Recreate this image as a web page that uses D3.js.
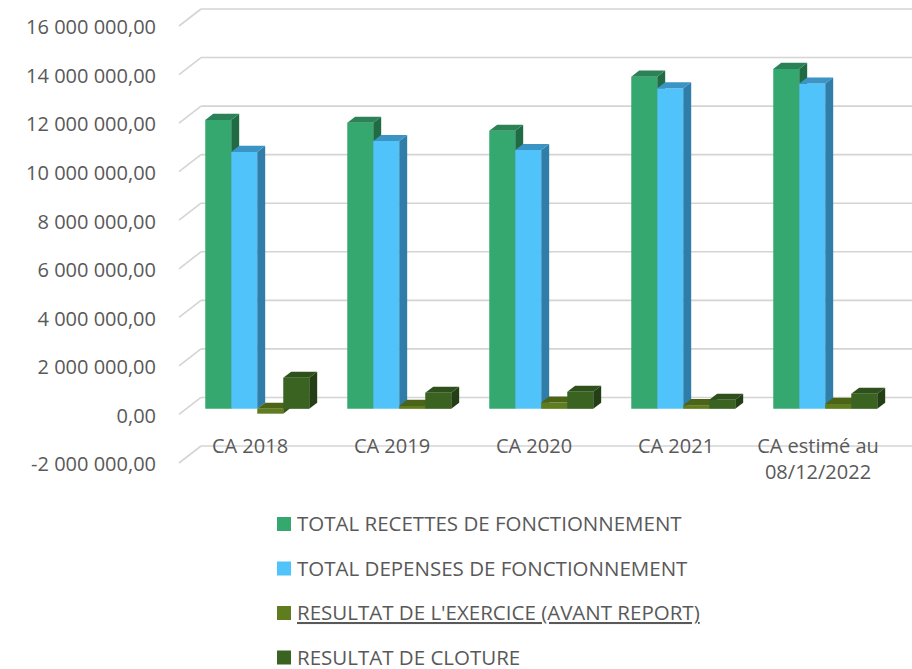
<!DOCTYPE html>
<html>
<head>
<meta charset="utf-8">
<script src="https://cdn.jsdelivr.net/npm/d3@7"></script>
<style>
  body { margin: 0; background: #fff; }
  text { font-family: "Open Sans", sans-serif; fill: #595959; }
</style>
</head>
<body>
<div id="chart"></div>
<script>
const categories = ["CA 2018", "CA 2019", "CA 2020", "CA 2021", "CA estimé au|08/12/2022"];
const seriesNames = [
  "TOTAL RECETTES DE FONCTIONNEMENT",
  "TOTAL DEPENSES DE FONCTIONNEMENT",
  "RESULTAT DE L'EXERCICE (AVANT REPORT)",
  "RESULTAT DE CLOTURE"
];
const recettes = [11900000, 11780000, 11450000, 13680000, 14000000];
const depenses = [10580000, 11030000, 10660000, 13200000, 13400000];
const resultatExercice = [-200000, 120000, 260000, 150000, 200000];
const resultatCloture = [1280000, 660000, 700000, 370000, 620000];
const yTicks = [-2000000, 0, 2000000, 4000000, 6000000, 8000000, 10000000, 12000000, 14000000, 16000000];

const series = [recettes, depenses, resultatExercice, resultatCloture];
// front, top, side colours for each series
const colors = [
  {front: "#35a86f", top: "#2a8256", side: "#1f6b44"},
  {front: "#4fc3fa", top: "#3a94c4", side: "#2f7da8"},
  {front: "#5f7c1f", top: "#4c6418", side: "#3d5212"},
  {front: "#3a6322", top: "#2e501b", side: "#243f15"}
];

const width = 912, height = 669;
const depthX = 22, depthY = 17;   // depth of the 3D floor
const barD0 = 0.33, barD1 = 0.69; // bars sit in the middle of the depth

const svg = d3.select("#chart").append("svg")
  .attr("width", width).attr("height", height);

const y = d3.scaleLinear().domain([-2000000, 16000000]).range([446, 9]); // back wall
const x = d3.scaleBand().domain(categories).range([179, 889]);
const xs = d3.scaleBand().domain(d3.range(4)).range([0, 104]);
const groupPad = (x.bandwidth() - 104) / 2;

// projection: front x, value, depth (0 = front, 1 = back wall)
function pt(xf, v, d) {
  return [xf + d * depthX, y(v) + depthY - d * depthY];
}

const fr = d3.formatLocale({decimal: ",", thousands: " ", grouping: [3], currency: ["", ""], minus: "-"});
const fmt = fr.format(",.2f");

// gridlines: back wall + left diagonal
const grid = svg.append("g");
yTicks.forEach(t => {
  const a = pt(179, t, 0), b = pt(179, t, 1);
  grid.append("line")
    .attr("x1", a[0]).attr("y1", a[1]).attr("x2", b[0]).attr("y2", b[1])
    .attr("stroke", "#d4d4d4").attr("stroke-width", 1.6);
  grid.append("line")
    .attr("x1", b[0]).attr("y1", b[1]).attr("x2", width).attr("y2", b[1])
    .attr("stroke", "#d4d4d4").attr("stroke-width", 1.6);
  svg.append("text")
    .attr("x", 156).attr("y", pt(179, t, 0)[1] + 3)
    .attr("text-anchor", "end").attr("dominant-baseline", "middle")
    .attr("font-size", 20)
    .text(fmt(t));
});

// bars
const bars = svg.append("g");
const poly = pts => pts.map(p => p.join(",")).join(" ");
categories.forEach((c, i) => {
  series.forEach((s, k) => {
    const v = s[i];
    const x0 = x(c) + groupPad + xs(k), x1 = x0 + xs.bandwidth();
    const vt = Math.max(v, 0), vb = Math.min(v, 0);
    const col = colors[k];
    bars.append("polygon")
      .attr("points", poly([pt(x0, vb, barD0), pt(x1, vb, barD0), pt(x1, vt, barD0), pt(x0, vt, barD0)]))
      .attr("fill", col.front);
    bars.append("polygon")
      .attr("points", poly([pt(x1, vb, barD0), pt(x1, vb, barD1), pt(x1, vt, barD1), pt(x1, vt, barD0)]))
      .attr("fill", col.side);
    bars.append("polygon")
      .attr("points", poly([pt(x0, vt, barD0), pt(x1, vt, barD0), pt(x1, vt, barD1), pt(x0, vt, barD1)]))
      .attr("fill", col.top);
  });
});

// category labels
categories.forEach(c => {
  const lines = c.split("|");
  const t = svg.append("text")
    .attr("x", x(c) + x.bandwidth() / 2).attr("y", 453)
    .attr("text-anchor", "middle").attr("font-size", 20);
  lines.forEach((l, j) => {
    t.append("tspan").attr("x", x(c) + x.bandwidth() / 2).attr("dy", j === 0 ? 0 : 26).text(l);
  });
});

// legend
const legend = svg.append("g");
seriesNames.forEach((n, k) => {
  const ly = 524 + k * 44.5;
  legend.append("rect")
    .attr("x", 277).attr("y", ly - 7).attr("width", 14).attr("height", 14)
    .attr("fill", colors[k].front);
  legend.append("text")
    .attr("x", 297).attr("y", ly + 7)
    .attr("font-size", 20.5)
    .attr("text-decoration", k === 2 ? "underline" : null)
    .text(n);
});
</script>
</body>
</html>
